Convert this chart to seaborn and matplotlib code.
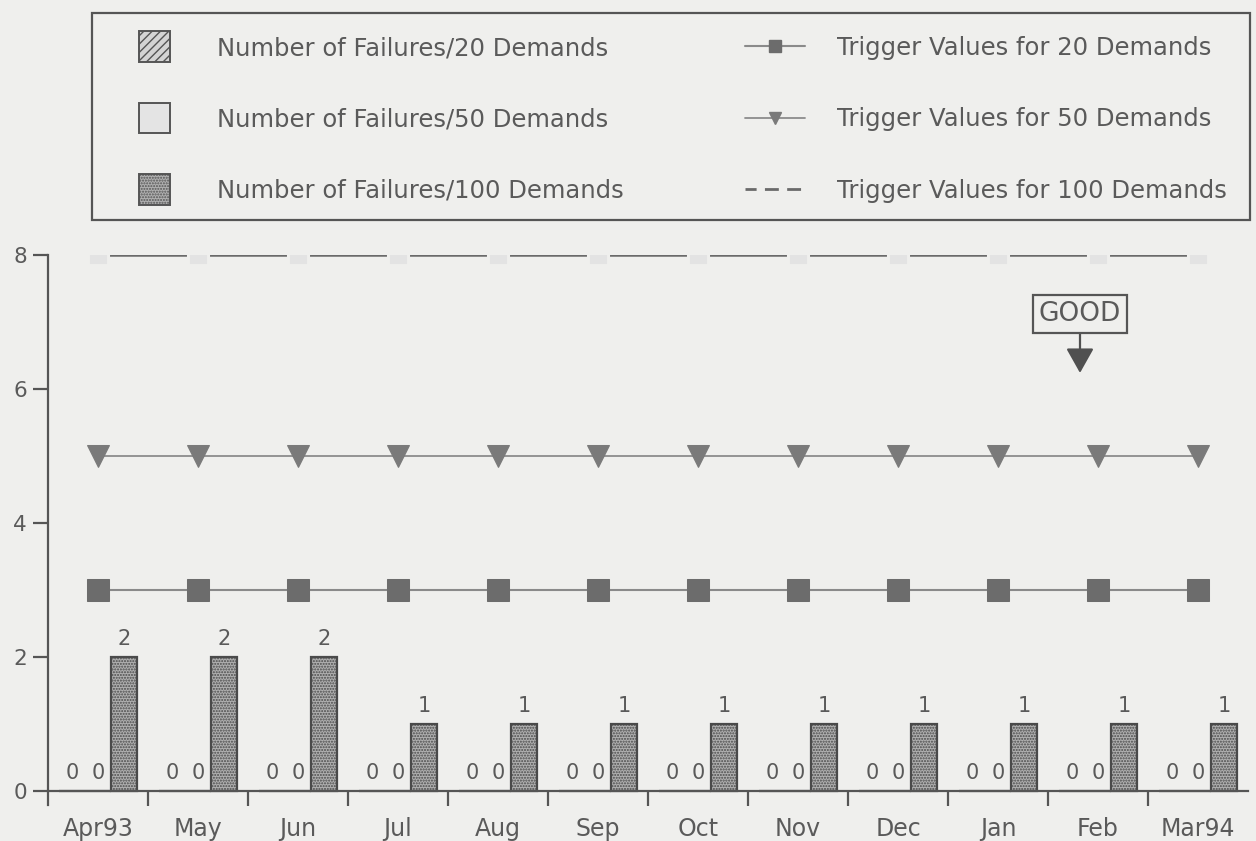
import numpy as np
import pandas as pd
import matplotlib
matplotlib.use("Agg")
import matplotlib.pyplot as plt
import matplotlib.patches as mpatches
from matplotlib.lines import Line2D
from matplotlib.legend_handler import HandlerPatch
import seaborn as sns

months = ["Apr93", "May", "Jun", "Jul", "Aug", "Sep", "Oct", "Nov", "Dec", "Jan", "Feb", "Mar94"]
fail_20 = [0, 0, 0, 0, 0, 0, 0, 0, 0, 0, 0, 0]
fail_50 = [0, 0, 0, 0, 0, 0, 0, 0, 0, 0, 0, 0]
fail_100 = [2, 2, 2, 1, 1, 1, 1, 1, 1, 1, 1, 1]
trig_20 = [3] * 12
trig_50 = [5] * 12
trig_100 = [8] * 12
series_names = ["Number of Failures/20 Demands", "Number of Failures/50 Demands",
                "Number of Failures/100 Demands"]
trig_names = ["Trigger Values for 20 Demands", "Trigger Values for 50 Demands",
              "Trigger Values for 100 Demands"]

W, H = 1256, 841
BG = "#efefed"
TXT = "#5a5a5a"
EDGE = "#555555"
plt.rcParams["lines.scale_dashes"] = False
sns.set_style("white")
plt.rcParams["font.family"] = ["DejaVu Sans"]

fig = plt.figure(figsize=(W / 100, H / 100), dpi=100, facecolor=BG)
ax = fig.add_axes([48 / W, (H - 805) / H, 1200 / W, (805 - 255) / H])
ax.set_facecolor(BG)

df = pd.DataFrame({
    "month": months * 3,
    "value": fail_20 + fail_50 + fail_100,
    "series": [series_names[0]] * 12 + [series_names[1]] * 12 + [series_names[2]] * 12,
})
bar_colors = ["#d4d4d4", "#e4e4e4", "#b0b0b0"]
sns.barplot(data=df, x="month", y="value", hue="series", order=months,
            hue_order=series_names, palette=bar_colors, width=0.78,
            edgecolor="#4a4a4a", linewidth=1.6, legend=False, ax=ax, errorbar=None)
hatches = ["////", "", "......"]
for cont, h in zip(ax.containers, hatches):
    for p in cont.patches:
        p.set_hatch(h)
    ax.bar_label(cont, fmt="%d", padding=6, fontsize=15, color=TXT)

xs = np.arange(len(months))
sns.lineplot(x=xs, y=trig_20, ax=ax, color="#8a8a8a", lw=1.5, marker="s",
             markersize=15.5, markerfacecolor="#6c6c6c", markeredgecolor="#6c6c6c")
sns.lineplot(x=xs, y=trig_50, ax=ax, color="#8c8c8c", lw=1.3, marker="v",
             markersize=15.5, markerfacecolor="#7a7a7a", markeredgecolor="#7a7a7a")
sns.lineplot(x=xs, y=trig_100, ax=ax, color="#6a6a6a", lw=1.8,
             linestyle=(63.7, (55.4, 16.6)), marker="s", markersize=11,
             markerfacecolor="#e3e3e3", markeredgecolor="#e3e3e3")

ax.set_xlim(-0.5, 11.5)
ax.set_ylim(-14 / 67, 8)
ax.set_xlabel("")
ax.set_ylabel("")
for s in ["top", "right"]:
    ax.spines[s].set_visible(False)
ax.spines["bottom"].set_position(("data", 0))
for s in ["left", "bottom"]:
    ax.spines[s].set_color(EDGE)
    ax.spines[s].set_linewidth(1.6)
ax.set_yticks([0, 2, 4, 6, 8])
ax.tick_params(axis="y", left=True, direction="out", length=11, width=1.6, color=EDGE,
               labelsize=15.5, labelcolor=TXT, pad=4)
ax.set_xticks(xs)
ax.set_xticklabels(months)
ax.tick_params(axis="x", which="major", bottom=True, length=0, labelsize=17,
               labelcolor=TXT, pad=19)
ax.set_xticks(np.arange(0.5, 11, 1), minor=True)
ax.tick_params(axis="x", which="minor", bottom=True, direction="out", length=11,
               width=1.6, color=EDGE)

ax.annotate("GOOD", xy=(9.82, 6.24), xytext=(9.82, 7.12), ha="center", va="center",
            fontsize=19, color=TXT,
            bbox=dict(boxstyle="square,pad=0.22", fc="none", ec=EDGE, lw=1.6),
            arrowprops=dict(arrowstyle="-|>,head_length=0.8,head_width=0.45",
                            color="#505050", lw=1.6, shrinkA=0, shrinkB=0))


class SquareHandler(HandlerPatch):
    def create_artists(self, legend, orig_handle, xdescent, ydescent, width, height,
                       fontsize, trans):
        s = 22
        p = mpatches.Rectangle((-xdescent + width / 2 - s / 2 - 0.5, -ydescent + height / 2 - s / 2),
                               s, s, facecolor=orig_handle.get_facecolor(),
                               edgecolor=orig_handle.get_edgecolor(),
                               hatch=orig_handle.get_hatch(), lw=1.4, transform=trans)
        return [p]


patches = [mpatches.Rectangle((0, 0), 1, 1, facecolor=c, edgecolor="#555555", hatch=h)
           for c, h in zip(bar_colors, hatches)]
lines = [
    Line2D([], [], color="#8a8a8a", lw=1.5, marker="s", markersize=9,
           markerfacecolor="#6c6c6c", markeredgecolor="#6c6c6c"),
    Line2D([], [], color="#8c8c8c", lw=1.3, marker="v", markersize=9,
           markerfacecolor="#7a7a7a", markeredgecolor="#7a7a7a"),
    Line2D([], [], color="#6a6a6a", lw=2, linestyle=(2, (10, 6))),
]
FS = 17.5
common = dict(loc="upper left", fontsize=FS, labelspacing=1.95, handlelength=2.47,
              handletextpad=1.32, borderpad=0, borderaxespad=0, frameon=False)
top_y = 1 - 36 / H
leg1 = fig.legend(patches, series_names, bbox_to_anchor=(125 / W, top_y),
                  handler_map={mpatches.Rectangle: SquareHandler()}, **common)
leg2 = fig.legend(lines, trig_names, bbox_to_anchor=(745 / W, top_y), **common)
for lg in (leg1, leg2):
    for t in lg.get_texts():
        t.set_color(TXT)

frame = mpatches.Rectangle((92 / W, 1 - 220 / H), (1250 - 92) / W, (220 - 13) / H,
                           transform=fig.transFigure, fill=False, ec=EDGE, lw=1.6)
fig.patches.append(frame)

fig.savefig("out.png", dpi=100, facecolor=BG)
